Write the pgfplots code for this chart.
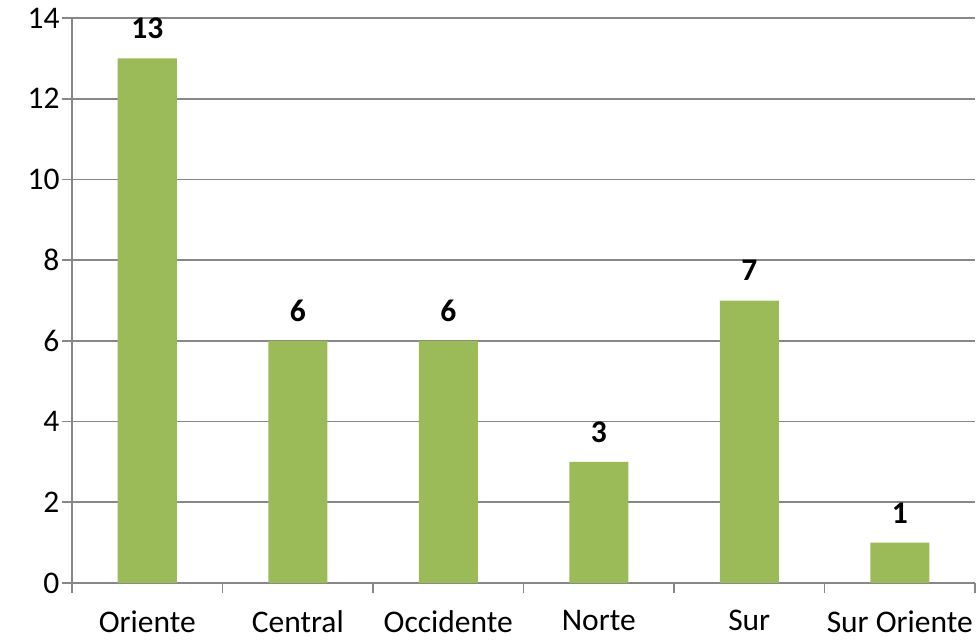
\documentclass[border=0pt]{standalone}
\usepackage{fontspec}
\setmainfont{Carlito}
\usepackage{pgfplots}
\pgfplotsset{compat=1.18}
\definecolor{bargreen}{HTML}{9BBB59}
\definecolor{gridgray}{HTML}{878787}
\begin{document}
\begin{tikzpicture}
\begin{axis}[
  at={(0,0)}, anchor=south west,
  scale only axis,
  width=903pt, height=565pt,
  xmin=-0.5, xmax=5.5,
  ymin=0, ymax=14,
  ytick={0,2,...,14},
  xtick={0,1,2,3,4,5},
  xticklabels={Oriente,Central,Occidente,Norte,Sur,Sur Oriente},
  minor xtick={-0.5,0.5,1.5,2.5,3.5,4.5,5.5},
  axis x line*=bottom,
  axis y line*=left,
  axis line style={gridgray, line width=1.6pt},
  every tick/.style={gridgray, line width=1.6pt},
  tick align=outside,
  major tick length=10pt,
  minor tick length=10pt,
  major x tick style={draw=none},
  ymajorgrids,
  major grid style={gridgray, line width=1.6pt},
  /pgf/number format/assume math mode=true,
  ticklabel style={font=\fontsize{31.5}{36}\selectfont, text=black},
  y tick label style={xshift=1pt},
  x tick label style={yshift=-14pt},
  ybar,
  bar width=59pt,
  nodes near coords,
  nodes near coords style={font=\fontsize{31.5}{36}\selectfont\bfseries, text=black, yshift=16pt},
  clip=false,
]
\addplot[fill=bargreen, draw=none] coordinates {(0,13) (1,6) (2,6) (3,3) (4,7) (5,1)};
\end{axis}
\pgfresetboundingbox
\path[use as bounding box] (-72pt,-57pt) rectangle (904pt,583pt);
\end{tikzpicture}
\end{document}
